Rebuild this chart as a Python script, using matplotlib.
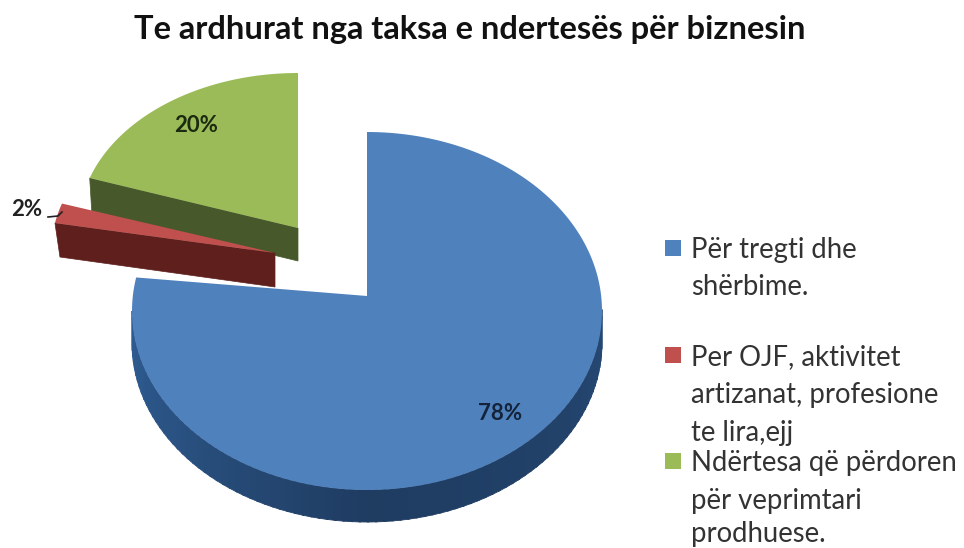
import numpy as np
import matplotlib
matplotlib.use('Agg')
import matplotlib.pyplot as plt

title = 'Te ardhurat nga taksa e ndertesës për biznesin'
shares = [78, 2, 20]
share_labels = ['78%', '2%', '20%']
legend_lines = [['Për tregti dhe', 'shërbime.'],
                ['Per OJF, aktivitet', 'artizanat, profesione', 'te lira,ejj'],
                ['Ndërtesa që përdoren', 'për veprimtari', 'prodhuese.']]

top_colors = ['#4f81bd', '#c0504d', '#9bbb59']
side_colors = ['#234a78', '#5f1f1c', '#47592a']
# apex x, apex y, ellipse centre y, rx, ry of each slice in the drawn picture
geometry = [(367, 296, 311, 235, 179),
            (275, 253, 253, 224, 160),
            (298, 228, 225, 219, 152)]
depth = [32, 34, 33]
# the outer end of a cut face leans inward a little going down
lean = [0, 5, 2]

plt.rcParams['font.family'] = ['Lato', 'DejaVu Sans']


def arc(a0, a1, g):
    ang = np.radians(np.linspace(a0, a1, 200))
    return g[0] + g[3]*np.cos(ang), g[2] - g[4]*np.sin(ang)


fig = plt.figure(figsize=(9.64, 5.48), dpi=100)
ax = fig.add_axes([0, 0, 1, 1])
ax.set_xlim(0, 964)
ax.set_ylim(548, 0)
ax.axis('off')

# slices run clockwise from 12 o'clock
edges = 90 - np.cumsum([0] + shares)*3.6
bounds = [(edges[i], edges[i+1]) for i in range(3)]

# blue rim, shaded along the front
for a in np.arange(180, 360, 2.0):
    x, y = arc(a, a+2.5, geometry[0])
    shade = np.interp(a, [180, 215, 270, 330, 360], [0.0, 0.35, 1.0, 0.8, 0.6])
    col = np.array(matplotlib.colors.to_rgb('#2f5d93'))*(1-shade) + np.array(matplotlib.colors.to_rgb('#1f3c61'))*shade
    ax.fill(np.r_[x, x[::-1]], np.r_[y, y[::-1]+depth[0]], color=col, lw=0.6)

# green then red sit on top of the blue slice
for i in [0, 2, 1]:
    g = geometry[i]
    a0, a1 = bounds[i]
    x, y = arc(a0, a1, g)
    if i != 0:
        # cut face towards the viewer, from the rim to the apex
        ax.fill([x[0], g[0], g[0], x[0]+lean[i]], [y[0], g[1], g[1]+depth[i], y[0]+depth[i]],
                color=side_colors[i], lw=0.5)
    ax.fill(np.r_[g[0], x], np.r_[g[1], y], color=top_colors[i], lw=0)

ax.text(500, 413, share_labels[0], ha='center', va='center', fontsize=16, fontweight='bold', color='#14233a')
ax.text(27, 209, share_labels[1], ha='center', va='center', fontsize=16, fontweight='bold', color='#222222')
ax.text(196, 125, share_labels[2], ha='center', va='center', fontsize=16, fontweight='bold', color='#1c2a10')
ax.plot([48, 58, 62], [217, 216, 212], color='#222222', lw=1.2)

ax.text(470, 30, title, ha='center', va='center', fontsize=23.5, fontweight='bold', color='#111111')

line_y = [[250, 287], [357, 395, 433], [463, 501, 534]]
for i in range(3):
    yc = line_y[i][0] - 2
    ax.fill([665, 681, 681, 665], [yc-8, yc-8, yc+8, yc+8], color=top_colors[i], lw=0)
    for s, yy in zip(legend_lines[i], line_y[i]):
        ax.text(691, yy, s, ha='left', va='center', fontsize=19.8, color='#333333')

fig.savefig('out.png', dpi=100)
